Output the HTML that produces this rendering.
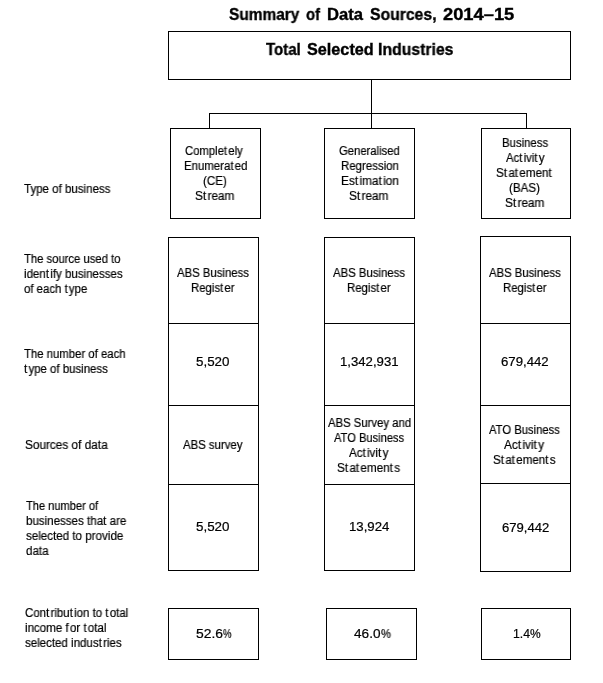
<!DOCTYPE html>
<html><head><meta charset="utf-8"><title>Summary of Data Sources, 2014-15</title>
<style>
html,body{margin:0;padding:0;background:#fff}
body{width:603px;height:683px;position:relative;overflow:hidden;font-family:"Liberation Sans",sans-serif;color:#000}
.b{position:absolute;border:1px solid #000;background:transparent}
.l{position:absolute;background:#000}
.t{position:absolute;white-space:pre;font-size:12px;line-height:1;transform-origin:0 0;will-change:transform;-webkit-text-stroke:0.2px #000}
.h{font-size:16px;font-weight:bold;-webkit-text-stroke:0.35px #000}
i{font-style:normal;letter-spacing:1.3px}
</style></head><body>
<div class="b" style="left:168px;top:31px;width:401px;height:47px"></div>
<div class="l" style="left:371px;top:79px;width:1px;height:50px"></div>
<div class="l" style="left:209px;top:113px;width:318px;height:1px"></div>
<div class="l" style="left:209px;top:113px;width:1px;height:16px"></div>
<div class="l" style="left:526px;top:113px;width:1px;height:16px"></div>
<div class="b" style="left:170px;top:128px;width:89px;height:89px"></div>
<div class="b" style="left:324px;top:128px;width:89px;height:89px"></div>
<div class="b" style="left:481px;top:128px;width:88px;height:89px"></div>
<div class="b" style="left:168px;top:237px;width:89px;height:332px"></div>
<div class="l" style="left:168px;top:323px;width:91px;height:1px"></div>
<div class="l" style="left:168px;top:405px;width:91px;height:1px"></div>
<div class="l" style="left:168px;top:484px;width:91px;height:1px"></div>
<div class="b" style="left:324px;top:237px;width:89px;height:332px"></div>
<div class="l" style="left:324px;top:323px;width:91px;height:1px"></div>
<div class="l" style="left:324px;top:405px;width:91px;height:1px"></div>
<div class="l" style="left:324px;top:484px;width:91px;height:1px"></div>
<div class="b" style="left:480px;top:236px;width:89px;height:334px"></div>
<div class="l" style="left:480px;top:323px;width:91px;height:1px"></div>
<div class="l" style="left:480px;top:405px;width:91px;height:1px"></div>
<div class="l" style="left:480px;top:483px;width:91px;height:1px"></div>
<div class="b" style="left:168px;top:608px;width:89px;height:50px"></div>
<div class="b" style="left:326px;top:608px;width:89px;height:50px"></div>
<div class="b" style="left:481px;top:608px;width:88px;height:50px"></div>
<span class="t h" style="left:228.72px;top:7px;transform:scaleX(0.9641)">Summary</span>
<span class="t h" style="left:306.44px;top:7px;transform:scaleX(0.9288)">of</span>
<span class="t h" style="left:326.66px;top:7px;transform:scaleX(1.0382)">Data</span>
<span class="t h" style="left:370.01px;top:7px;transform:scaleX(0.9833)">Sources,</span>
<span class="t h" style="left:442.83px;top:7px;transform:scaleX(1.1447)">2014–15</span>
<span class="t h" style="left:266.00px;top:42px;transform:scaleX(0.9389)">Total</span>
<span class="t h" style="left:306.89px;top:42px;transform:scaleX(1.0140)">Selected</span>
<span class="t h" style="left:378.41px;top:42px;transform:scaleX(0.9867)">Industries</span>
<span class="t" style="left:185.23px;top:145px;transform:scaleX(0.9416)">Comple<i>t</i>ely</span>
<span class="t" style="left:183.95px;top:160px;transform:scaleX(0.9523)">Enumera<i>t</i>ed</span>
<span class="t" style="left:203.28px;top:175px;transform:scaleX(0.9634)">(CE)</span>
<span class="t" style="left:195.21px;top:190px;transform:scaleX(0.9832)">S<i>t</i>ream</span>
<span class="t" style="left:338.63px;top:145px;transform:scaleX(0.9402)">Generalised</span>
<span class="t" style="left:340.65px;top:160px;transform:scaleX(0.9542)">Regression</span>
<span class="t" style="left:340.61px;top:175px;transform:scaleX(0.9877)">Es<i>t</i>ima<i>t</i>ion</span>
<span class="t" style="left:349.41px;top:190px;transform:scaleX(0.9832)">S<i>t</i>ream</span>
<span class="t" style="left:501.95px;top:137px;transform:scaleX(0.9460)">Business</span>
<span class="t" style="left:505.50px;top:152px;transform:scaleX(0.9448)">Ac<i>t</i>ivi<i>t</i>y</span>
<span class="t" style="left:496.21px;top:167px;transform:scaleX(0.9709)">S<i>t</i>a<i>t</i>ement</span>
<span class="t" style="left:509.27px;top:182px;transform:scaleX(0.9672)">(BAS)</span>
<span class="t" style="left:505.41px;top:197px;transform:scaleX(0.9832)">S<i>t</i>ream</span>
<span class="t" style="left:23.86px;top:183px;transform:scaleX(0.9598)">Type of business</span>
<span class="t" style="left:23.97px;top:253px;transform:scaleX(0.9392)">The source used to</span>
<span class="t" style="left:24.18px;top:268px;transform:scaleX(0.9606)">iden<i>t</i>ify businesses</span>
<span class="t" style="left:23.73px;top:283px;transform:scaleX(0.9490)">of each <i>t</i>ype</span>
<span class="t" style="left:23.96px;top:348px;transform:scaleX(0.9455)">The number of each</span>
<span class="t" style="left:24.20px;top:363px;transform:scaleX(0.9527)"><i>t</i>ype of business</span>
<span class="t" style="left:25.21px;top:439px;transform:scaleX(0.9827)">Sources of data</span>
<span class="t" style="left:25.97px;top:500px;transform:scaleX(0.9244)">The number of</span>
<span class="t" style="left:25.98px;top:515px;transform:scaleX(0.9635)">businesses that are</span>
<span class="t" style="left:26.06px;top:530px;transform:scaleX(0.9660)">selected to provide</span>
<span class="t" style="left:25.82px;top:545px;transform:scaleX(0.9652)">data</span>
<span class="t" style="left:24.92px;top:607px;transform:scaleX(0.9555)">Con<i>t</i>ribu<i>t</i>ion to <i>t</i>otal</span>
<span class="t" style="left:25.48px;top:622px;transform:scaleX(0.9622)">income <i>f</i>or <i>t</i>otal</span>
<span class="t" style="left:25.16px;top:637px;transform:scaleX(0.9600)">selected indus<i>t</i>ries</span>
<span class="t" style="left:177.30px;top:267px;transform:scaleX(0.9465)">ABS Business</span>
<span class="t" style="left:191.05px;top:282px;transform:scaleX(0.9467)">Regis<i>t</i>er</span>
<span class="t" style="left:195.74px;top:356px;transform:scaleX(1.1145)">5,520</span>
<span class="t" style="left:183.20px;top:439px;transform:scaleX(0.9482)">ABS survey</span>
<span class="t" style="left:195.74px;top:521px;transform:scaleX(1.1145)">5,520</span>
<span class="t" style="left:195.82px;top:628px;transform:scaleX(1.1556)">52.6</span>
<span class="t" style="left:223.10px;top:628px;transform:scaleX(0.8000)">%</span>
<span class="t" style="left:333.20px;top:267px;transform:scaleX(0.9479)">ABS Business</span>
<span class="t" style="left:346.55px;top:282px;transform:scaleX(0.9489)">Regis<i>t</i>er</span>
<span class="t" style="left:339.98px;top:356px;transform:scaleX(1.0967)">1,342,931</span>
<span class="t" style="left:328.30px;top:417px;transform:scaleX(0.9433)">ABS Survey and</span>
<span class="t" style="left:334.20px;top:432px;transform:scaleX(0.9276)">ATO Business</span>
<span class="t" style="left:349.40px;top:447px;transform:scaleX(0.9669)">Ac<i>t</i>ivi<i>t</i>y</span>
<span class="t" style="left:337.21px;top:462px;transform:scaleX(0.9741)">S<i>t</i>a<i>t</i>emen<i>t</i>s</span>
<span class="t" style="left:349.08px;top:521px;transform:scaleX(1.0993)">13,924</span>
<span class="t" style="left:354.22px;top:628px;transform:scaleX(1.1341)">46.0</span>
<span class="t" style="left:380.77px;top:628px;transform:scaleX(0.9300)">%</span>
<span class="t" style="left:489.20px;top:267px;transform:scaleX(0.9439)">ABS Business</span>
<span class="t" style="left:503.05px;top:282px;transform:scaleX(0.9467)">Regis<i>t</i>er</span>
<span class="t" style="left:501.05px;top:356px;transform:scaleX(1.0982)">679,442</span>
<span class="t" style="left:489.20px;top:424px;transform:scaleX(0.9369)">ATO Business</span>
<span class="t" style="left:504.40px;top:439px;transform:scaleX(0.9840)">Ac<i>t</i>ivi<i>t</i>y</span>
<span class="t" style="left:492.92px;top:454px;transform:scaleX(0.9663)">S<i>t</i>a<i>t</i>emen<i>t</i>s</span>
<span class="t" style="left:501.96px;top:522px;transform:scaleX(1.0888)">679,442</span>
<span class="t" style="left:512.53px;top:628px;transform:scaleX(1.0222)">1.4</span>
<span class="t" style="left:530.05px;top:628px;transform:scaleX(1.0000)">%</span>
</body></html>
